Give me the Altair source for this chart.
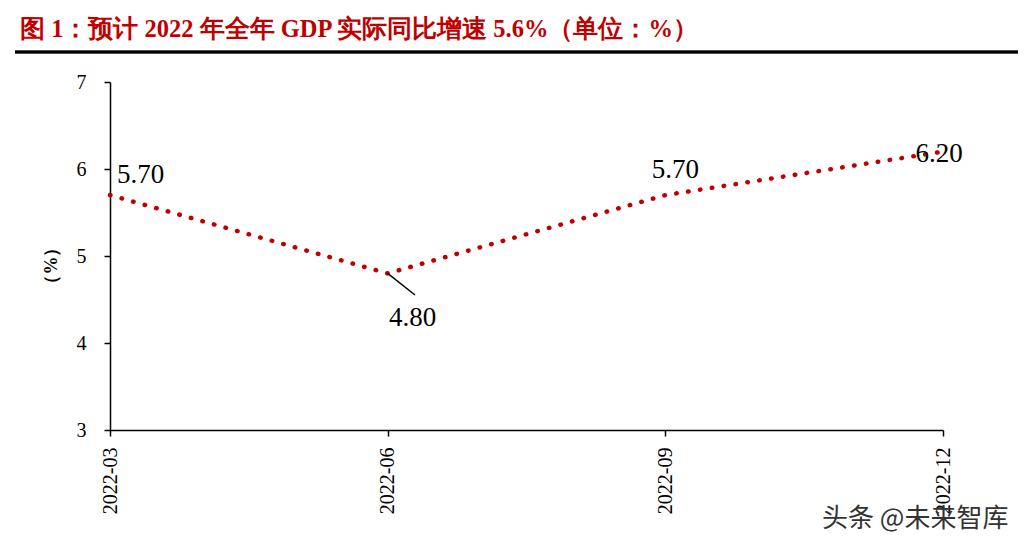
import altair as alt
import pandas as pd

dates = ["2022-03", "2022-06", "2022-09", "2022-12"]
gdp = [5.70, 4.80, 5.70, 6.20]
labels = ["5.70", "4.80", "5.70", "6.20"]
y_ticks = [3, 4, 5, 6, 7]

title_text = "图  1：预计 2022 年全年 GDP 实际同比增速 5.6%（单位：%）"
watermark = "头条 @未来智库"

df = pd.DataFrame({"date": dates, "gdp": gdp, "label": labels})

RED = "#C00000"
SERIF = "Liberation Serif"

x_enc = alt.X("date:O", sort=dates,
              scale=alt.Scale(type="point", padding=0),
              axis=alt.Axis(title=None, labelAngle=-90, labelAlign="right",
                            labelBaseline="middle", labelFont=SERIF,
                            labelFontSize=20, labelColor="#000000", grid=False,
                            labelPadding=11, tickSize=6, tickColor="#000000",
                            domainColor="#000000", domainWidth=1.5, tickWidth=1.5))
y_enc = alt.Y("gdp:Q", scale=alt.Scale(domain=[3, 7], nice=False, zero=False),
              axis=alt.Axis(values=y_ticks, format="d", title="（%）", titleFont=SERIF,
                            titleFontSize=18, titleFontWeight="bold",
                            titleColor="#000000", titleX=-50, titleY=183,
                            labelFont=SERIF, labelFontSize=20,
                            labelColor="#000000", labelPadding=18,
                            tickSize=6, tickColor="#000000", tickWidth=1.5,
                            domainColor="#000000", domainWidth=1.5, grid=False))

base = alt.Chart(df)

line = base.mark_line(color=RED, strokeWidth=4.5, strokeDash=[0.5, 11.5],
                      strokeCap="round").encode(x=x_enc, y=y_enc)

def lab(d, dx, dy, align="center"):
    return base.transform_filter(alt.datum.date == d).mark_text(
        font=SERIF, fontSize=27, color="#000000", dx=dx, dy=dy,
        align=align, baseline="middle").encode(
        x=alt.X("date:O", sort=dates), y="gdp:Q", text="label:N")

l0 = lab("2022-03", 7, -20, "left")
l1 = lab("2022-06", 25, 45)
l2 = lab("2022-09", 10, -25)
l3 = lab("2022-12", -4, 2)

leader = base.transform_filter(alt.datum.date == "2022-06").mark_rule(
    color="#000000", strokeWidth=1.5).encode(
    x=alt.X("date:O", sort=dates), y="gdp:Q",
    x2=alt.value(305), y2=alt.value(213))

underline = alt.Chart(df).mark_rule(color="#000000", strokeWidth=2.5).encode(
    x=alt.value(-95), x2=alt.value(910), y=alt.value(-30))

title_mark = alt.Chart(pd.DataFrame({"t": [title_text]})).mark_text(
    font=SERIF, fontSize=24.5, fontWeight="bold", color=RED, align="left",
    baseline="middle").encode(x=alt.value(-90), y=alt.value(-52), text="t:N")

wm = alt.Chart(pd.DataFrame({"t": [watermark]})).mark_text(
    font="Noto Sans CJK SC", fontSize=26, color="#333333", align="left",
    baseline="middle").encode(x=alt.value(712), y=alt.value(437), text="t:N")

chart = alt.layer(line, leader, l0, l1, l2, l3, underline, title_mark, wm).properties(
    width=833, height=348,
    autosize=alt.AutoSizeParams(type="none"),
    padding={"left": 102, "top": 74, "right": 75, "bottom": 108},
).configure(background="white").configure_view(stroke=None)

chart.save("out.html", embed_options={"renderer": "svg", "actions": False})
